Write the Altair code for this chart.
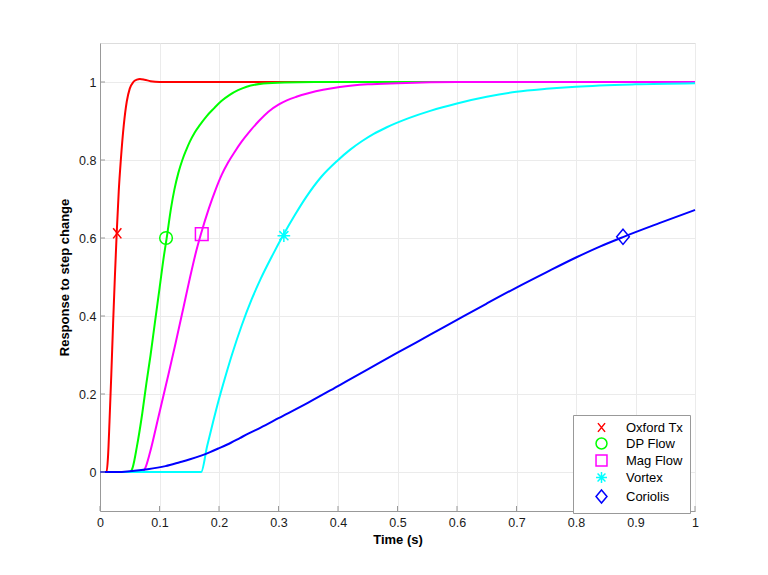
import altair as alt
import pandas as pd

# ---- data ----
names = ["Oxford Tx", "DP Flow", "Mag Flow", "Vortex", "Coriolis"]
colors = ["#ff0000", "#00ff00", "#ff00ff", "#00ffff", "#0000ff"]

oxford_t = [0, 0.011, 0.0135, 0.016, 0.019, 0.022, 0.025, 0.028, 0.0315, 0.035, 0.04, 0.045,
            0.05, 0.056, 0.062, 0.067, 0.075, 0.085, 0.1, 0.2, 1.0]
oxford_y = [0, 0, 0.04, 0.13, 0.25, 0.38, 0.5, 0.61, 0.72, 0.8, 0.89, 0.95,
            0.983, 1.0, 1.006, 1.008, 1.006, 1.002, 1.0, 1.0, 1.0]

dp_t = [0, 0.05, 0.055, 0.062, 0.071, 0.078, 0.085, 0.092, 0.1, 0.1076, 0.112, 0.1193, 0.125,
        0.1317, 0.1384, 0.145, 0.151, 0.159, 0.168, 0.179, 0.1916, 0.204, 0.218, 0.232,
        0.2465, 0.2745, 0.31, 0.36, 1.0]
dp_y = [0, 0, 0.012, 0.065, 0.15, 0.228, 0.3, 0.38, 0.47, 0.556, 0.599, 0.676, 0.724,
        0.767, 0.8, 0.826, 0.847, 0.87, 0.89, 0.912, 0.9325, 0.951, 0.967, 0.979,
        0.988, 0.996, 0.999, 1.0, 1.0]

mag_t = [0, 0.07, 0.076, 0.084, 0.098, 0.115, 0.127, 0.14, 0.15, 0.16, 0.17, 0.183, 0.194,
         0.2045, 0.215, 0.226, 0.238, 0.252, 0.267, 0.283, 0.3, 0.314, 0.33, 0.35, 0.375,
         0.403, 0.45, 0.5, 0.6, 1.0]
mag_y = [0, 0, 0.01, 0.05, 0.14, 0.25, 0.33, 0.42, 0.49, 0.556, 0.612, 0.676, 0.723,
         0.762, 0.793, 0.82, 0.847, 0.874, 0.9, 0.924, 0.942, 0.953, 0.962, 0.971, 0.98,
         0.987, 0.994, 0.997, 1.0, 1.0]

vortex_t = [0, 0.17, 0.18, 0.19, 0.2, 0.21, 0.222, 0.238, 0.255, 0.27, 0.29, 0.309, 0.328,
            0.347, 0.372, 0.398, 0.42, 0.44, 0.46, 0.482, 0.52, 0.555, 0.6, 0.65, 0.7,
            0.75, 0.8, 0.9, 1.0]
vortex_y = [0, 0, 0.066, 0.128, 0.187, 0.241, 0.302, 0.375, 0.443, 0.495, 0.556, 0.61, 0.66,
            0.706, 0.757, 0.797, 0.826, 0.848, 0.867, 0.884, 0.908, 0.926, 0.945, 0.962, 0.975,
            0.9825, 0.988, 0.994, 0.997]

coriolis_t = [0, 0.03, 0.05, 0.08, 0.11, 0.134, 0.15, 0.17, 0.185, 0.2, 0.22, 0.235, 0.25,
              0.27, 0.3, 0.35, 0.403, 0.45, 0.5, 0.555, 0.6, 0.65, 0.7, 0.75, 0.8, 0.84,
              0.88, 0.94, 1.0]
coriolis_y = [0, 0, 0.002, 0.007, 0.015, 0.025, 0.032, 0.042, 0.051, 0.061, 0.075, 0.087, 0.099,
              0.114, 0.138, 0.178, 0.223, 0.263, 0.306, 0.352, 0.39, 0.432, 0.473, 0.512, 0.55, 0.578,
              0.603, 0.638, 0.672]

marker_t = [0.029, 0.111, 0.171, 0.309, 0.879]
marker_y = [0.612, 0.600, 0.610, 0.606, 0.603]

x_ticks = [0, 0.1, 0.2, 0.3, 0.4, 0.5, 0.6, 0.7, 0.8, 0.9, 1]
y_ticks = [0, 0.2, 0.4, 0.6, 0.8, 1]

# ---- build tables ----
series_t = [oxford_t, dp_t, mag_t, vortex_t, coriolis_t]
series_y = [oxford_y, dp_y, mag_y, vortex_y, coriolis_y]
rows = []
for n, ts, ys in zip(names, series_t, series_y):
    for t, y in zip(ts, ys):
        rows.append({"series": n, "t": t, "y": y})
lines_df = pd.DataFrame(rows)
markers_df = pd.DataFrame({"series": names, "t": marker_t, "y": marker_y})
xt_df = pd.DataFrame({"t": x_ticks})
yt_df = pd.DataFrame({"y": y_ticks})

FONT = "Liberation Sans, Arial, Helvetica, sans-serif"
AXIS_GREY = "#999999"

axis_common = dict(
    domainColor=AXIS_GREY, domainWidth=1, gridColor="#ebebeb", gridWidth=1,
    ticks=True, tickSize=0, labelFont=FONT, labelFontSize=12.5, labelColor="#1a1a1a",
    titleFont=FONT, titleFontSize=13, titleFontWeight="bold", titleColor="#000000",
    labelFlush=False,
)

X = alt.X("t:Q", scale=alt.Scale(domain=[0, 1], nice=False, zero=False),
          axis=alt.Axis(values=x_ticks, format="~g", title="Time (s)",
                        labelPadding=5, titlePadding=5, **axis_common))
Y = alt.Y("y:Q", scale=alt.Scale(domain=[-0.1, 1.1], nice=False, zero=False),
          axis=alt.Axis(values=y_ticks, format="~g", title="Response to step change",
                        labelPadding=4, titlePadding=7, **axis_common))

layers = []
for n, c in zip(names, colors):
    layers.append(
        alt.Chart(lines_df)
        .transform_filter(alt.datum.series == n)
        .mark_line(color=c, strokeWidth=2, interpolate="monotone")
        .encode(x=X, y=Y)
    )

shapes = [
    "M-0.65,-0.8L0.65,0.8M-0.65,0.8L0.65,-0.8",
    "circle",
    "square",
    "M0,-1L0,1M-1,0L1,0M-0.72,-0.72L0.72,0.72M-0.72,0.72L0.72,-0.72",
    "M0,-1.2L1,0L0,1.2L-1,0Z",
]

leg = alt.Legend(
    title=None, orient="none", legendX=473, legendY=372, direction="vertical",
    padding=6, strokeColor=AXIS_GREY, fillColor="#ffffff", cornerRadius=0,
    symbolSize=120, symbolStrokeWidth=1.5, symbolOffset=16, labelOffset=18,
    labelFont=FONT, labelFontSize=13, labelColor="#000000", rowPadding=0,
)

points = (
    alt.Chart(markers_df)
    .mark_point(filled=False, size=160, strokeWidth=1.5, opacity=1)
    .encode(
        x=X, y=Y,
        color=alt.Color("series:N", scale=alt.Scale(domain=names, range=colors), legend=leg),
        shape=alt.Shape("series:N", scale=alt.Scale(domain=names, range=shapes), legend=leg),
    )
)

xticks = alt.Chart(xt_df).mark_rule(color=AXIS_GREY, strokeWidth=1).encode(
    x=X, y=alt.value(468), y2=alt.value(463))
yticks = alt.Chart(yt_df).mark_rule(color=AXIS_GREY, strokeWidth=1).encode(
    y=Y, x=alt.value(0), x2=alt.value(5))

chart = (
    alt.layer(*layers, points, xticks, yticks)
    .properties(width=595, height=468, autosize=alt.AutoSizeParams(type="none"),
                padding={"left": 92, "top": 35, "right": 40, "bottom": 50})
    .configure_view(stroke=None)
    .configure(background="#ffffff")
)

chart.save("out.html", embed_options={"renderer": "svg", "actions": False})
